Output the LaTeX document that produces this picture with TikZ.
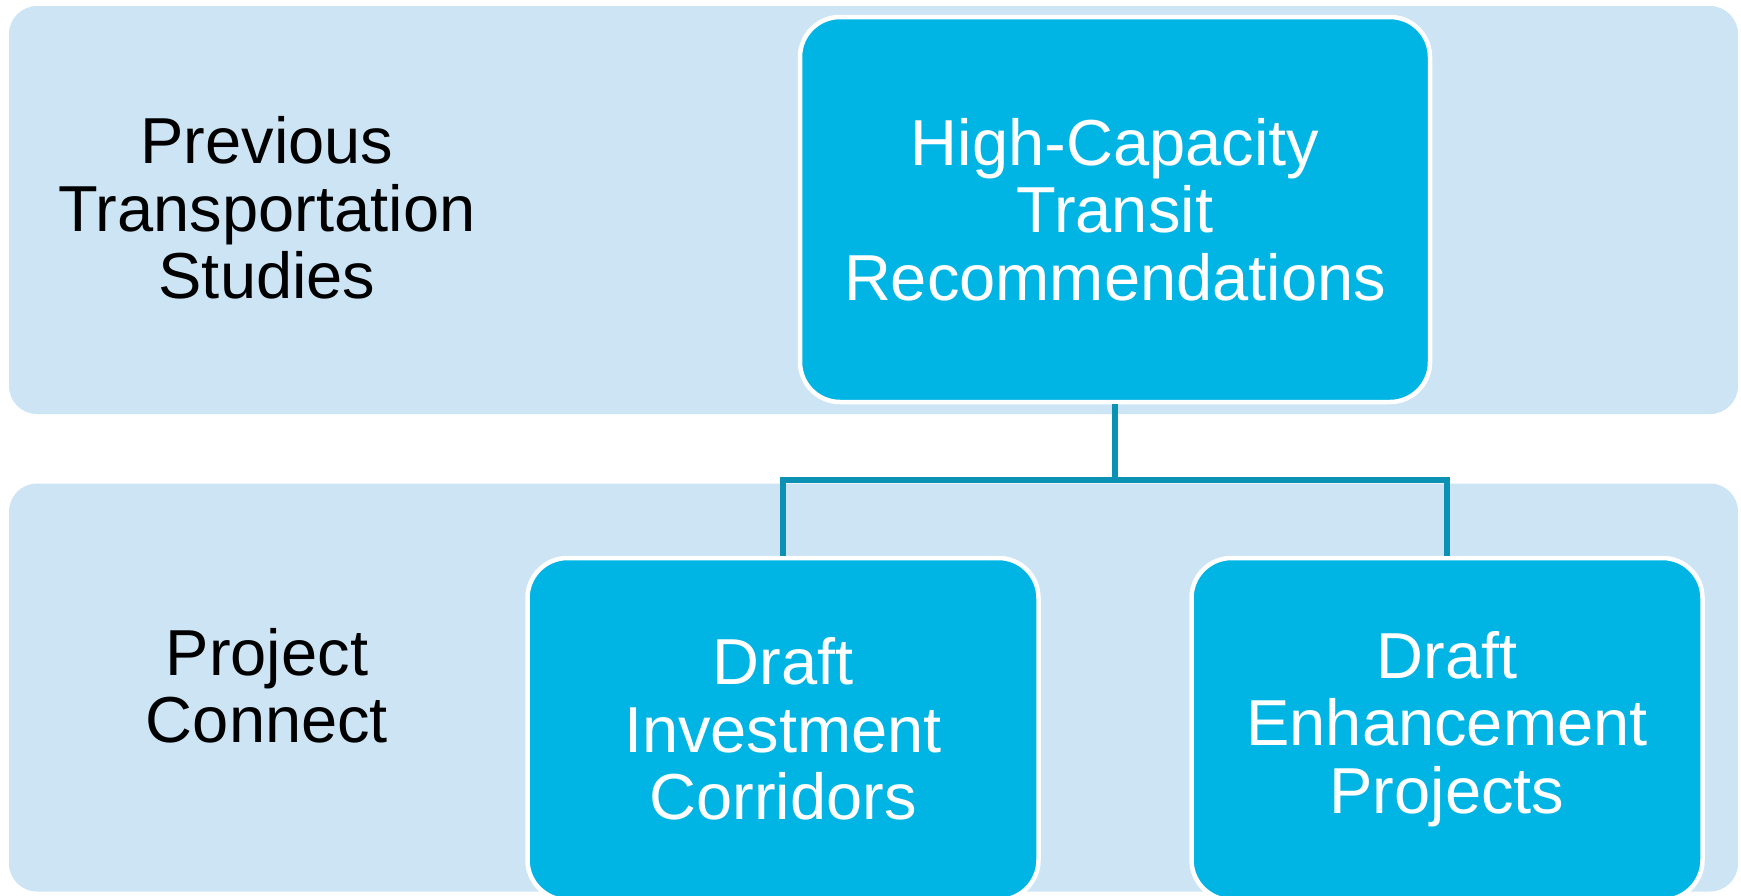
\documentclass[tikz,border=0pt]{standalone}
\usepackage{fontspec}
\setmainfont{Liberation Sans}
\usetikzlibrary{positioning}

\definecolor{bandblue}{RGB}{204,228,244}
\definecolor{boxcyan}{RGB}{0,181,228}
\definecolor{linkteal}{RGB}{10,145,180}
\newcommand{\bigtext}{\fontsize{65}{67.5}\selectfont}

\tikzset{
  band/.style={rectangle, rounded corners=28pt, fill=bandblue,
               minimum width=1729pt, minimum height=408pt},
  stage/.style={rectangle, rounded corners=40pt, fill=boxcyan, draw=white,
                line width=4.5pt, text=white, align=center, font=\bigtext},
  lbl/.style={align=center, font=\bigtext},
  link/.style={draw=linkteal, line width=5.5pt}
}

\begin{document}
\begin{tikzpicture}[x=1pt, y=-1pt]
    \useasboundingbox (0,0) rectangle (1741,895);

    % the two rows
    \node[band] (prev) at (873.5,210) {};
    \node[band] (pc) at (873.5,687.5) {};
    \node[lbl] (prevlbl) at (267,208) {Previous\\Transportation\\Studies};
    \node[lbl] (pclbl) at (267,686) {Project\\Connect};

    % boxes
    \node[stage, minimum width=630pt, minimum height=385pt] (hct) at (1115,209.5)
         {High-Capacity\\Transit\\Recommendations};
    \node[stage, minimum width=511pt, minimum height=342pt] (dic) at (783,729)
         {Draft\\Investment\\Corridors};
    \node[stage, minimum width=511pt, minimum height=342pt] (dep) at (1447,729)
         {Draft\\Enhancement\\Projects};

    \coordinate (split) at (hct.south |- 0,480);
    \draw[link] (hct.south) -- (split);
    \draw[link] (split) -| (dic.north);
    \draw[link] (split) -| (dep.north);
\end{tikzpicture}
\end{document}
